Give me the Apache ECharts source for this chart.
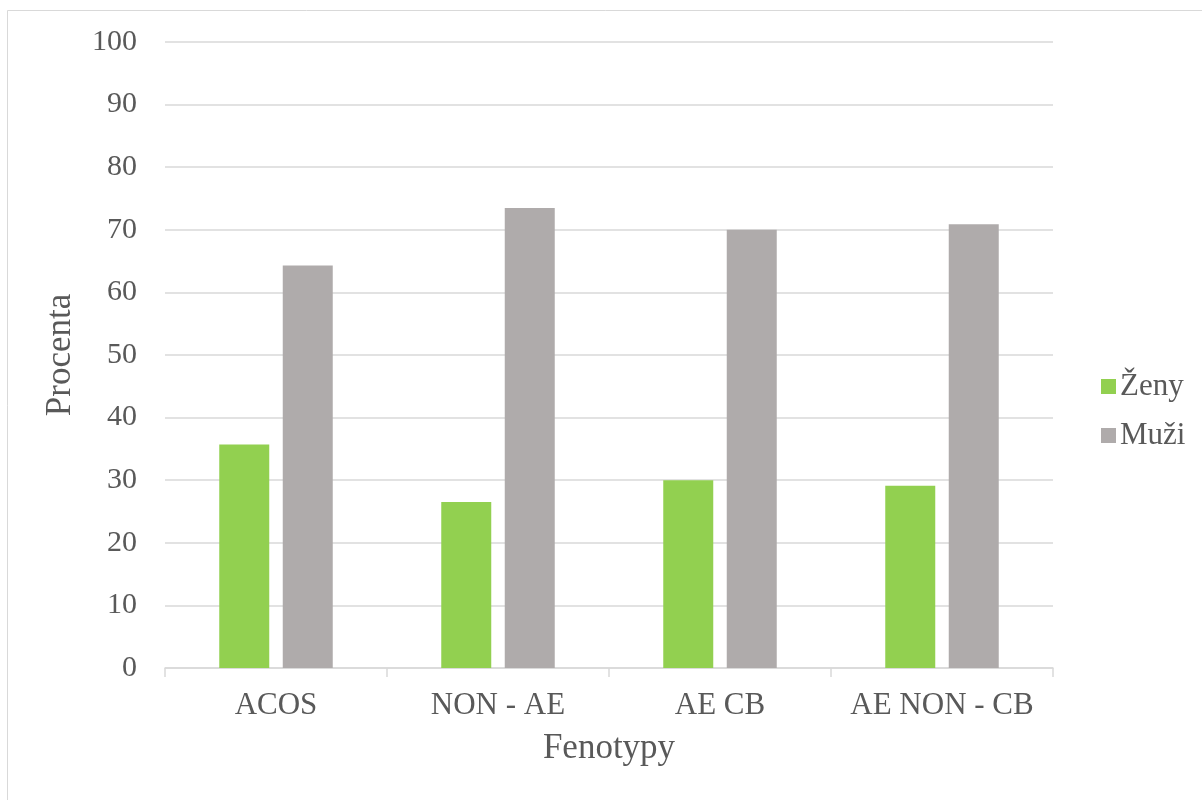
<!DOCTYPE html>
<html>
<head>
<meta charset="utf-8">
<script src="https://cdn.jsdelivr.net/npm/echarts@6/dist/echarts.min.js"></script>
<style>
  html, body { margin: 0; padding: 0; background: #fff; }
  #chart { width: 1202px; height: 800px; }
</style>
</head>
<body>
<div id="chart"></div>
<script>
// Phenotype categories and the share (%) of women and men in each
const categories = ['ACOS', 'NON - AE', 'AE CB', 'AE NON - CB'];
const zeny = [35.7, 26.5, 30.0, 29.1];
const muzi = [64.3, 73.5, 70.0, 70.9];
const seriesNames = ['Ženy', 'Muži'];

const FONT = '"Liberation Serif", "Times New Roman", serif';
const TEXT = '#595959';
const GRID = '#D9D9D9';

const chart = echarts.init(document.getElementById('chart'), null, { renderer: 'canvas' });

chart.setOption({
  animation: false,
  backgroundColor: '#fff',
  textStyle: { fontFamily: FONT },
  graphic: [{
    type: 'rect',
    shape: { x: 7.5, y: 10.5, width: 1200, height: 800 },
    style: { fill: 'none', stroke: '#D9D9D9', lineWidth: 1 },
    silent: true
  }],
  grid: { left: 165, right: 149, top: 42, bottom: 132, containLabel: false },
  legend: {
    orient: 'vertical',
    left: 1096,
    top: 366,
    itemWidth: 15,
    itemHeight: 15,
    itemGap: 18,
    icon: 'rect',
    textStyle: { fontFamily: FONT, fontSize: 31, color: TEXT, padding: [0, 0, 0, -1] },
    data: seriesNames
  },
  xAxis: {
    type: 'category',
    data: categories,
    name: 'Fenotypy',
    nameLocation: 'middle',
    nameGap: 63,
    nameTextStyle: { fontFamily: FONT, fontSize: 35, color: TEXT },
    axisLine: { lineStyle: { color: GRID, width: 1.5 } },
    axisTick: { show: true, length: 9, lineStyle: { color: GRID, width: 1.5 } },
    axisLabel: { fontFamily: FONT, fontSize: 31, color: TEXT, margin: 22, interval: 0 },
    splitLine: { show: false }
  },
  yAxis: {
    type: 'value',
    min: 0,
    max: 100,
    interval: 10,
    name: 'Procenta',
    nameLocation: 'middle',
    nameRotate: 90,
    nameGap: 87,
    nameTextStyle: { fontFamily: FONT, fontSize: 35, color: TEXT },
    axisLine: { show: false },
    axisTick: { show: false },
    axisLabel: { fontFamily: FONT, fontSize: 30, color: TEXT, margin: 28 },
    splitLine: { lineStyle: { color: GRID, width: 1.5 } }
  },
  series: [
    {
      name: seriesNames[0],
      type: 'bar',
      data: zeny,
      barWidth: 50,
      barGap: '27%',
      itemStyle: { color: '#92D050' }
    },
    {
      name: seriesNames[1],
      type: 'bar',
      data: muzi,
      barWidth: 50,
      itemStyle: { color: '#AFABAB' }
    }
  ]
});
</script>
</body>
</html>
